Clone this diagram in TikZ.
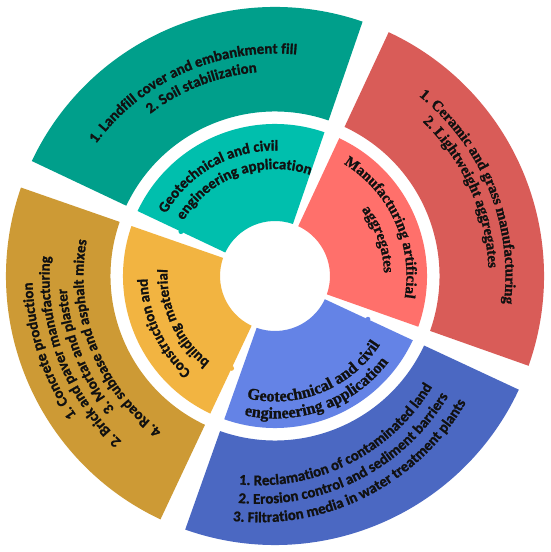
\documentclass[tikz,border=0pt]{standalone}
\usepackage{fontspec}
\usetikzlibrary{decorations.text}
\newfontfamily\calfont{Carlito}[BoldFeatures={FakeBold=1.2}]
\newfontfamily\timfont{Liberation Serif}[BoldFeatures={FakeBold=1.2}]
\newcommand\cfont{\calfont\bfseries\fontsize{14.9}{18}\selectfont}
\newcommand\tfont{\timfont\bfseries\fontsize{15}{18}\selectfont}
\newcommand\tbigfont{\timfont\bfseries\fontsize{16.2}{19}\selectfont}
\definecolor{tealout}{HTML}{009F8B}
\definecolor{tealin}{HTML}{00BFAD}
\definecolor{redout}{HTML}{D95C58}
\definecolor{redin}{HTML}{FF706B}
\definecolor{blueout}{HTML}{4B68C2}
\definecolor{bluein}{HTML}{6483E6}
\definecolor{goldout}{HTML}{CD9A35}
\definecolor{goldin}{HTML}{F2B441}
\definecolor{txt}{HTML}{111111}
% annular sector: colour, inner r, outer r, start angle, end angle
\newcommand\ringseg[5]{\fill[#1] ({#4}:#3) arc[start angle={#4},end angle={#5},radius=#3] -- ({#5}:#2) arc[start angle={#5},end angle={#4},radius=#2] -- cycle;}
% clockwise text (tops outward): radius, centre angle, text
\newcommand\cwtext[3]{\path[decorate,decoration={text along path,text={#3},text align=center,text color=txt}] ({#2+80}:#1) arc[start angle={#2+80},end angle={#2-80},radius=#1];}
% counter-clockwise text (tops inward): radius, centre angle, text
\newcommand\ccwtext[3]{\path[decorate,decoration={text along path,text={#3},text align=center,text color=txt}] ({#2-80}:#1) arc[start angle={#2-80},end angle={#2+80},radius=#1];}
\begin{document}
\begin{tikzpicture}[x=1pt,y=1pt]
\useasboundingbox (0,0) rectangle (550,552);
\fill[white] (0,0) rectangle (550,552);
\begin{scope}[shift={(275,276)}]
% outer ring
\ringseg{tealout}{164.5}{269}{71}{154.7}
\ringseg{goldout}{164.5}{269}{160.8}{244.8}
\ringseg{blueout}{164.5}{269}{250.5}{335}
\ringseg{redout}{164.5}{269}{340.5}{425}
% inner ring
\ringseg{tealin}{55}{152}{71}{154.7}
\ringseg{goldin}{55}{152}{160.8}{244.8}
\ringseg{bluein}{55}{152}{250.5}{335}
\ringseg{redin}{55}{152}{340.5}{425}
% small knobs on the inner segments
\fill[tealin] (154.7:104) circle[radius=2.5];
\fill[goldin] (244.8:102) circle[radius=2.5];
\fill[bluein] (335:102.5) circle[radius=2.5];
% teal texts
\cwtext{222.5}{114}{|\cfont|1. Landfill cover and embankment fill}
\cwtext{204.5}{111.3}{|\cfont|2. Soil stabilization}
\cwtext{125.5}{119.4}{|\cfont|Geotechnical and civil}
\cwtext{107}{109.8}{|\cfont|engineering application}
% red texts
\cwtext{131.5}{24.5}{|\tfont|Manufacturing artificial}
\cwtext{109}{19.5}{|\tfont|aggregates}
\cwtext{230.5}{22.25}{|\tfont|1. Ceramic and grass manufacturing}
\cwtext{213.5}{24.2}{|\tfont|2. Lightweight aggregates}
% gold texts
\cwtext{127.5}{205}{|\cfont|Construction and}
\cwtext{107.5}{204.6}{|\cfont|building material}
\cwtext{242.5}{198.3}{|\cfont|1. Concrete production}
\cwtext{225.5}{201.1}{|\cfont|2. Brick and paver manufacturing}
\cwtext{208.5}{201.6}{|\cfont|3. Mortar and plaster}
\cwtext{191.5}{201.5}{|\cfont|4. Road subbase and asphalt mixes}
% blue texts
\ccwtext{125.5}{291.9}{|\tbigfont|Geotechnical and civil}
\ccwtext{142.5}{290.2}{|\tbigfont|engineering application}
\begin{scope}[shift={(-16.4,-6.8)}]
\ccwtext{202.5}{296.75}{|\cfont|1. Reclamation of contaminated land}
\ccwtext{221}{296.9}{|\cfont|2. Erosion control and sediment barriers}
\ccwtext{239.5}{296.9}{|\cfont|3. Filtration media in water treatment plants}
\end{scope}
\end{scope}
\end{tikzpicture}
\end{document}
